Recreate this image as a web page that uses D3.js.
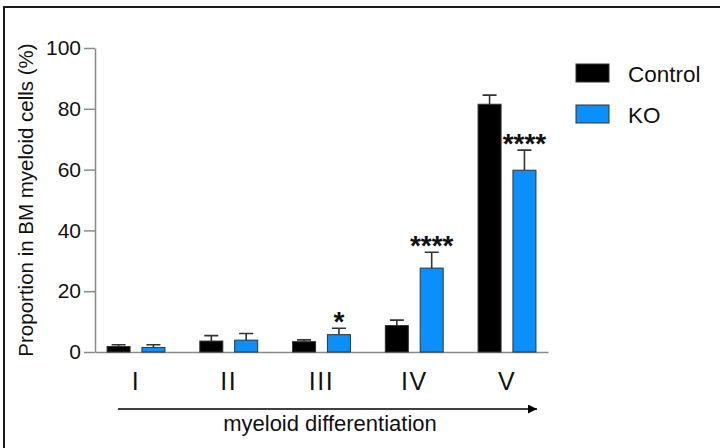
<!DOCTYPE html>
<html>
<head>
<meta charset="utf-8">
<script src="https://cdn.jsdelivr.net/npm/d3@7"></script>
<style>
  html, body { margin: 0; padding: 0; background: #fff; }
  svg { display: block; font-family: "Liberation Sans", Arial, Helvetica, sans-serif; }
</style>
</head>
<body>
<svg id="chart" width="720" height="448"></svg>
<script>
// Differentiation stages and group labels
const categories = ["I", "II", "III", "IV", "V"];
const seriesNames = ["Control", "KO"];
const seriesColors = ["#000000", "#0a8ffc"];

// Mean proportion (%) and upper error (SEM) for each stage
const controlMean = [1.8, 3.6, 3.4, 8.7, 81.5];
const controlErr  = [0.6, 1.8, 0.6, 1.8, 3.0];
const koMean      = [1.5, 3.9, 5.7, 27.6, 59.8];
const koErr       = [0.9, 2.2, 2.1, 5.2, 6.6];

// Significance marks for KO vs Control
const koSignif = ["", "", "*", "****", "****"];

// Y axis tick values
const yTicks = [0, 20, 40, 60, 80, 100];

const rows = categories.map((c, i) => ({
  cat: c,
  values: [
    { series: "Control", mean: controlMean[i], err: controlErr[i], sig: "" },
    { series: "KO", mean: koMean[i], err: koErr[i], sig: koSignif[i] }
  ]
}));

const svg = d3.select("#chart");
svg.append("rect").attr("width", 720).attr("height", 448).attr("fill", "#fff");

// Outer frame (top and left edges)
svg.append("path")
  .attr("d", "M4,448V7H720")
  .attr("fill", "none")
  .attr("stroke", "#1a1a1a")
  .attr("stroke-width", 2);

const axisColor = "#8a8a8a";
const y = d3.scaleLinear().domain([0, 100]).range([352, 48]);
const x0 = d3.scaleBand().domain(categories).range([95, 548])
  .paddingInner(0.376).paddingOuter(0.13);
const x1 = d3.scaleBand().domain(seriesNames).range([0, x0.bandwidth()])
  .paddingInner(0.34).paddingOuter(0);
const color = d3.scaleOrdinal().domain(seriesNames).range(seriesColors);

// Y axis
const yAxis = svg.append("g")
  .attr("transform", "translate(95,0)")
  .call(d3.axisLeft(y).tickValues(yTicks).tickSize(11).tickSizeOuter(0).tickPadding(3));
yAxis.select(".domain").attr("stroke", axisColor).attr("stroke-width", 1.5);
yAxis.selectAll(".tick line").attr("stroke", axisColor).attr("stroke-width", 1.5);
yAxis.selectAll(".tick text").attr("fill", "#111").style("font-size", "21px")
  .style("font-family", "'Liberation Sans', Arial, sans-serif");

// Y axis title
svg.append("text")
  .attr("transform", "translate(33,200) rotate(-90)")
  .attr("text-anchor", "middle")
  .attr("fill", "#111")
  .style("font-size", "20.5px")
  .text("Proportion in BM myeloid cells (%)");

// X axis with stage labels
const xAxis = svg.append("g")
  .attr("transform", "translate(0,352)")
  .call(d3.axisBottom(x0).tickSize(0).tickSizeOuter(0).tickPadding(20));
xAxis.select(".domain").attr("stroke", axisColor).attr("stroke-width", 1.5);
xAxis.selectAll(".tick text").attr("fill", "#111").style("font-size", "25px")
  .style("letter-spacing", "1.5px")
  .style("font-family", "'Liberation Sans', Arial, sans-serif");

// Bars, error bars and significance marks
const groups = svg.append("g").selectAll("g.grp")
  .data(rows).join("g")
  .attr("class", "grp")
  .attr("transform", d => `translate(${x0(d.cat)},0)`);

const capW = 14;
groups.selectAll("path.err")
  .data(d => d.values).join("path")
  .attr("class", "err")
  .attr("d", d => {
    const cx = x1(d.series) + x1.bandwidth() / 2;
    const yt = y(d.mean + d.err);
    return `M${cx},${y(d.mean)}V${yt}M${cx - capW / 2},${yt}H${cx + capW / 2}`;
  })
  .attr("fill", "none")
  .attr("stroke", "#333")
  .attr("stroke-width", 1.6);

groups.selectAll("rect.bar")
  .data(d => d.values).join("rect")
  .attr("class", "bar")
  .attr("x", d => x1(d.series))
  .attr("width", x1.bandwidth())
  .attr("y", d => y(d.mean))
  .attr("height", d => y(0) - y(d.mean))
  .attr("fill", d => color(d.series))
  .attr("stroke", "#333")
  .attr("stroke-width", 1);

groups.selectAll("text.sig")
  .data(d => d.values.filter(v => v.sig)).join("text")
  .attr("class", "sig")
  .attr("x", d => x1(d.series) + x1.bandwidth() / 2)
  .attr("y", d => y(d.mean + d.err) + 3)
  .attr("text-anchor", "middle")
  .attr("fill", "#111")
  .style("font-size", "28px")
  .style("font-weight", "bold")
  .text(d => d.sig);

// Differentiation arrow
svg.append("defs").append("marker")
  .attr("id", "arrowhead")
  .attr("viewBox", "0 0 10 10")
  .attr("refX", 10).attr("refY", 5)
  .attr("markerWidth", 8).attr("markerHeight", 6)
  .attr("markerUnits", "strokeWidth")
  .attr("orient", "auto")
  .append("path").attr("d", "M0,0L10,5L0,10Z").attr("fill", "#000");

svg.append("line")
  .attr("x1", x0.range()[0] + 23).attr("x2", x0.range()[1] - 11)
  .attr("y1", 409).attr("y2", 409)
  .attr("stroke", "#000").attr("stroke-width", 1.5)
  .attr("marker-end", "url(#arrowhead)");

svg.append("text")
  .attr("x", 330).attr("y", 431)
  .attr("text-anchor", "middle")
  .attr("fill", "#111")
  .style("font-size", "22px")
  .text("myeloid differentiation");

// Legend
const legend = svg.append("g").attr("transform", "translate(576,64)");
const li = legend.selectAll("g").data(seriesNames).join("g")
  .attr("transform", (d, i) => `translate(0,${i * 41})`);
li.append("rect")
  .attr("width", 33).attr("height", 18)
  .attr("fill", d => color(d))
  .attr("stroke", "#333").attr("stroke-width", 1);
li.append("text")
  .attr("x", 52).attr("y", 18)
  .attr("fill", "#111")
  .style("font-size", "22.5px")
  .text(d => d);
</script>
</body>
</html>
